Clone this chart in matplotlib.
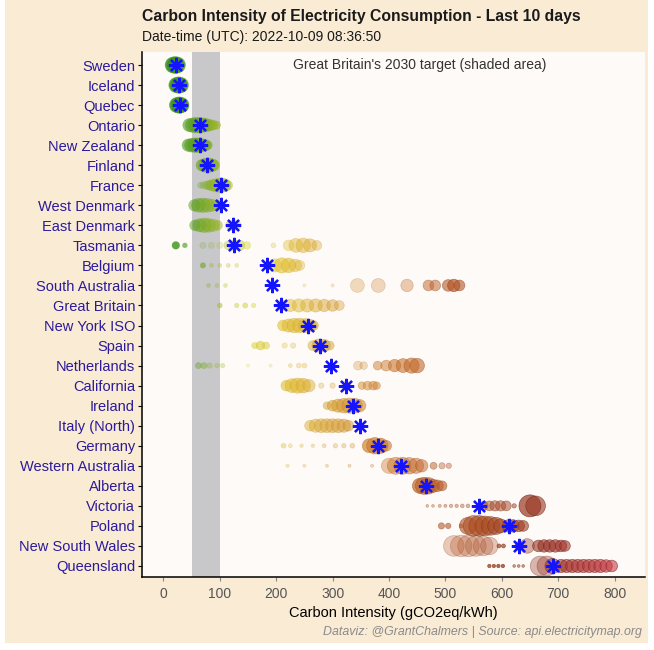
import matplotlib
matplotlib.use("Agg")
import matplotlib.pyplot as plt
import numpy as np
from matplotlib.colors import LinearSegmentedColormap, to_rgba
from matplotlib.patches import Rectangle

plt.rcParams['font.family'] = ['Liberation Sans', 'DejaVu Sans']

# ---------------- data ----------------
countries = ["Sweden", "Iceland", "Quebec", "Ontario", "New Zealand", "Finland", "France",
             "West Denmark", "East Denmark", "Tasmania", "Belgium", "South Australia",
             "Great Britain", "New York ISO", "Spain", "Netherlands", "California", "Ireland",
             "Italy (North)", "Germany", "Western Australia", "Alberta", "Victoria", "Poland",
             "New South Wales", "Queensland"]

current = [22, 27, 29, 65, 65, 77, 102, 102, 123, 125, 184, 193, 209, 257, 278, 297,
           324, 336, 349, 381, 422, 466, 559, 612, 631, 690]

hist_vals = [
    [17, 21, 25],
    [23, 27, 31],
    [24, 28, 32],
    [46, 52, 58, 64, 70, 76, 82, 88, 94],
    [44, 50, 56, 62, 68, 74, 79],
    [68, 74, 80, 86, 90],
    [66, 72, 78, 84, 90, 96, 102, 108, 114],
    [55, 62, 70, 78, 86, 94, 100],
    [56, 64, 72, 80, 88, 96, 118, 124, 130],
    [22, 38, 70, 85, 100, 115, 125, 135, 148, 195, 222, 235, 248, 260, 272],
    [70, 85, 100, 115, 130, 185, 198, 210, 222, 234, 242],
    [80, 95, 110, 193, 250, 300, 344, 381, 432, 470, 482, 505, 515, 525],
    [100, 130, 145, 160, 210, 225, 240, 255, 270, 285, 300, 312],
    [212, 222, 232, 242, 252, 260, 266],
    [162, 172, 182, 215, 230, 265, 275, 285, 295],
    [62, 72, 82, 95, 105, 150, 190, 225, 240, 250, 298, 345, 355, 380, 395, 410, 425, 440, 450],
    [218, 228, 238, 248, 258, 280, 300, 324, 352, 362, 372, 378],
    [290, 300, 310, 320, 330, 340, 348],
    [260, 270, 280, 290, 300, 310, 320, 328],
    [213, 225, 245, 265, 285, 305, 320, 335, 365, 375, 385, 395],
    [220, 250, 290, 330, 370, 400, 412, 424, 436, 448, 458, 479, 494, 506],
    [455, 462, 470, 478, 486, 494],
    [468, 478, 490, 500, 510, 520, 530, 540, 568, 578, 588, 598, 608, 622, 650, 660],
    [493, 505, 528, 540, 550, 560, 570, 580, 590, 598, 612, 620, 630, 638],
    [515, 528, 541, 554, 567, 578, 595, 603, 631, 645, 665, 675, 685, 695, 705, 712],
    [578, 586, 594, 602, 622, 630, 638, 668, 680, 690, 705, 715, 725, 735, 745, 755, 765, 775, 785, 795],
]

hist_sizes = [
    [130, 150, 130],
    [120, 140, 120],
    [120, 140, 120],
    [90, 110, 120, 120, 110, 90, 70, 50, 35],
    [80, 100, 110, 110, 90, 70, 40],
    [70, 100, 110, 90, 60],
    [20, 30, 40, 60, 80, 100, 110, 90, 50],
    [70, 100, 110, 100, 80, 60, 40],
    [60, 90, 110, 100, 80, 50, 40, 60, 40],
    [30, 12, 20, 20, 20, 40, 60, 60, 30, 12, 60, 100, 110, 90, 50],
    [15, 8, 8, 8, 8, 40, 90, 120, 110, 80, 50],
    [8, 8, 8, 20, 5, 5, 100, 100, 80, 60, 60, 70, 80, 60],
    [12, 10, 14, 10, 60, 80, 90, 90, 90, 80, 70, 50],
    [60, 90, 110, 110, 100, 80, 50],
    [20, 40, 25, 15, 15, 50, 90, 80, 40],
    [20, 20, 15, 12, 10, 5, 5, 8, 12, 12, 20, 40, 30, 40, 60, 80, 100, 120, 110],
    [60, 100, 120, 110, 80, 15, 15, 40, 30, 40, 40, 30],
    [30, 60, 90, 110, 120, 110, 80],
    [60, 90, 100, 100, 100, 100, 90, 60],
    [12, 8, 6, 6, 8, 10, 10, 12, 100, 140, 120, 60],
    [6, 5, 5, 5, 5, 120, 150, 150, 140, 120, 80, 25, 20, 15],
    [120, 150, 140, 90, 70, 50],
    [4, 4, 5, 5, 6, 6, 7, 7, 40, 50, 55, 55, 50, 10, 250, 200],
    [20, 15, 8, 150, 220, 220, 200, 180, 150, 100, 80, 80, 70, 60],
    [220, 240, 240, 220, 200, 160, 8, 8, 40, 110, 70, 80, 80, 80, 70, 60],
    [6, 6, 6, 6, 4, 4, 4, 200, 200, 120, 90, 90, 90, 90, 90, 90, 90, 90, 80, 70],
]

hist_alpha = [
    [0.8] * 3,
    [0.8] * 3,
    [0.8] * 3,
    [0.6] * 9,
    [0.6] * 7,
    [0.6] * 5,
    [0.3, 0.3, 0.4, 0.5, 0.5, 0.6, 0.6, 0.6, 0.5],
    [0.5] * 7,
    [0.5] * 9,
    [0.8, 0.6, 0.2, 0.2, 0.2, 0.4, 0.5, 0.5, 0.4, 0.3, 0.4, 0.5, 0.5, 0.5, 0.4],
    [0.6, 0.3, 0.3, 0.3, 0.3, 0.5, 0.5, 0.6, 0.6, 0.5, 0.4],
    [0.3, 0.3, 0.3, 0.4, 0.2, 0.2, 0.3, 0.3, 0.35, 0.5, 0.5, 0.6, 0.7, 0.6],
    [0.5, 0.4, 0.5, 0.4, 0.5, 0.5, 0.5, 0.5, 0.5, 0.5, 0.5, 0.4],
    [0.6] * 7,
    [0.5, 0.6, 0.5, 0.3, 0.3, 0.5, 0.6, 0.6, 0.5],
    [0.4, 0.4, 0.3, 0.3, 0.3, 0.2, 0.2, 0.3, 0.3, 0.3, 0.4, 0.3, 0.3, 0.5, 0.5, 0.6, 0.6, 0.6, 0.6],
    [0.6, 0.6, 0.6, 0.6, 0.5, 0.3, 0.3, 0.4, 0.5, 0.5, 0.5, 0.5],
    [0.5, 0.6, 0.6, 0.6, 0.6, 0.6, 0.6],
    [0.5, 0.5, 0.5, 0.5, 0.5, 0.5, 0.5, 0.5],
    [0.4, 0.3, 0.3, 0.3, 0.3, 0.3, 0.3, 0.3, 0.7, 0.7, 0.7, 0.6],
    [0.3, 0.3, 0.3, 0.3, 0.3, 0.4, 0.5, 0.5, 0.5, 0.5, 0.5, 0.5, 0.4, 0.4],
    [0.7, 0.7, 0.6, 0.6, 0.6, 0.6],
    [0.4, 0.4, 0.4, 0.4, 0.4, 0.4, 0.4, 0.4, 0.5, 0.5, 0.5, 0.5, 0.5, 0.5, 0.7, 0.6],
    [0.6, 0.6, 0.5, 0.6, 0.6, 0.6, 0.6, 0.6, 0.6, 0.6, 0.6, 0.6, 0.6, 0.6],
    [0.3, 0.3, 0.3, 0.3, 0.3, 0.3, 0.7, 0.7, 0.5, 0.4, 0.6, 0.6, 0.6, 0.6, 0.6, 0.6],
    [0.8, 0.8, 0.8, 0.8, 0.5, 0.5, 0.5, 0.35, 0.35, 0.5, 0.6, 0.6, 0.6, 0.6, 0.6, 0.6, 0.6, 0.6, 0.6, 0.6],
]

target_band = [50, 100]
x_ticks = [0, 100, 200, 300, 400, 500, 600, 700, 800]

# ---------------- styling ----------------
cmap = LinearSegmentedColormap.from_list("ci", [
    (0 / 800, (40 / 255, 140 / 255, 20 / 255)),
    (50 / 800, (80 / 255, 155 / 255, 25 / 255)),
    (100 / 800, (160 / 255, 185 / 255, 30 / 255)),
    (150 / 800, (215 / 255, 215 / 255, 40 / 255)),
    (220 / 800, (225 / 255, 190 / 255, 50 / 255)),
    (300 / 800, (215 / 255, 160 / 255, 50 / 255)),
    (400 / 800, (205 / 255, 120 / 255, 45 / 255)),
    (500 / 800, (185 / 255, 90 / 255, 40 / 255)),
    (600 / 800, (165 / 255, 70 / 255, 35 / 255)),
    (680 / 800, (150 / 255, 50 / 255, 35 / 255)),
    (800 / 800, (200 / 255, 60 / 255, 70 / 255)),
])

W, H = 654, 650
fig = plt.figure(figsize=(W / 100, H / 100), dpi=100, facecolor="white")
fig.patches.append(Rectangle((5 / W, 1 - 643 / H), 643 / W, 643 / H, transform=fig.transFigure,
                             facecolor="#FAEBD4", edgecolor="none", zorder=-10))

ax = fig.add_axes([142 / W, 1 - 577 / H, (645 - 142) / W, (577 - 52) / H])
ax.set_facecolor("#FEFAF7")

n = len(countries)
ypos = {c: n - 1 - i for i, c in enumerate(countries)}

ax.axvspan(target_band[0], target_band[1], color="#C8C8CA", zorder=1, lw=0)

for c, vals, sz, al in zip(countries, hist_vals, hist_sizes, hist_alpha):
    y = ypos[c]
    cols = []
    ecols = []
    for v, a in zip(vals, al):
        r, g, b, _ = cmap(min(v, 800) / 800)
        cols.append((r, g, b, a))
        k = 1 - 0.35 * min(v, 800) / 800
        ea = a * (0.3 + 0.7 * min(v, 800) / 800)
        ecols.append((r * k, g * k, b * k, min(1, ea + 0.1)))
    ax.scatter(vals, [y] * len(vals), s=sz, c=cols, edgecolors=ecols, linewidths=0.5, zorder=2)

ax.plot(current, [ypos[c] for c in countries], linestyle="none", marker=(8, 2, 0),
        markersize=11, markeredgewidth=1.6, color="#1414FF", zorder=3)

ax.set_xlim(-38, 854)
ax.set_ylim(-0.55, n - 1 + 0.65)
ax.set_yticks([ypos[c] for c in countries])
ax.set_yticklabels(countries)
ax.set_xticks(x_ticks)

for s in ["top", "right"]:
    ax.spines[s].set_visible(False)
ax.spines["left"].set_color("black")
ax.spines["bottom"].set_color("black")
ax.spines["left"].set_linewidth(1.1)
ax.spines["bottom"].set_linewidth(1.1)

ax.tick_params(axis="y", length=3, color="black", labelsize=10.5, labelcolor="#2B1B9B", pad=2)
ax.tick_params(axis="x", length=3, color="#888888", labelsize=10, labelcolor="#555555", pad=4)

ax.set_xlabel("Carbon Intensity (gCO2eq/kWh)", fontsize=10.5, color="black", labelpad=4)

ax.text(420, n - 1, "Great Britain's 2030 target (shaded area)", ha="center", va="center",
        fontsize=10, color="#333333", zorder=4,
        transform=matplotlib.transforms.blended_transform_factory(
            matplotlib.transforms.IdentityTransform(), ax.transData))

fig.text(142 / W, 1 - 16 / H, "Carbon Intensity of Electricity Consumption - Last 10 days",
         ha="left", va="center", fontsize=11.3, fontweight="bold", color="#1a1a1a")
fig.text(142 / W, 1 - 37 / H, "Date-time (UTC): 2022-10-09 08:36:50",
         ha="left", va="center", fontsize=10, color="#1a1a1a")
fig.text(642 / W, 1 - 632 / H, "Dataviz: @GrantChalmers | Source: api.electricitymap.org",
         ha="right", va="center", fontsize=8.9, style="italic", color="#8a8a8a")

fig.savefig("out.png", dpi=100, facecolor=fig.get_facecolor())
